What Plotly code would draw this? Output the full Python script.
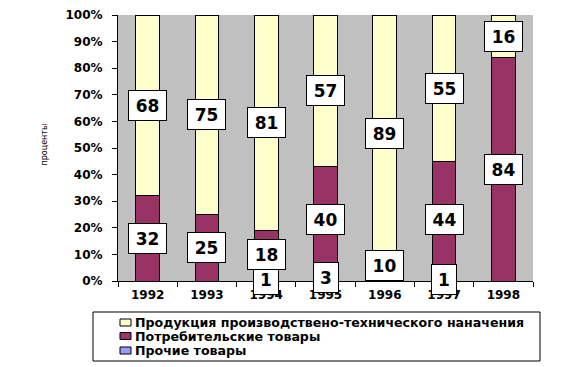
import plotly.graph_objects as go

years = ["1992", "1993", "1994", "1995", "1996", "1997", "1998"]
producer = [68, 75, 81, 57, 89, 55, 16]
consumer = [32, 25, 18, 40, 10, 44, 84]
other = [0, 0, 1, 3, 1, 1, 0]
other_labels = ["", "", "1", "3", "", "1", ""]

name_prod = "Продукция производствено-технического наначения"
name_cons = "Потребительские товары"
name_other = "Прочие товары"
y_title = "проценты"
y_ticks = [0, 10, 20, 30, 40, 50, 60, 70, 80, 90, 100]

COL_PROD, COL_CONS, COL_OTHER = "#FFFFCC", "#993366", "#9999FF"
FONT = "DejaVu Sans"
W, H = 583, 367
L, R, T, B = 118, 50, 15, 86
pw, ph = W - L - R, H - T - B

def px_x(x):
    return (x - L) / pw

def px_y(y):
    return (H - B - y) / ph

fig = go.Figure()
line = dict(color="black", width=1)
fig.add_trace(go.Bar(x=years, y=other, name=name_other,
                     marker=dict(color=COL_OTHER, line=line)))
fig.add_trace(go.Bar(x=years, y=consumer, name=name_cons,
                     marker=dict(color=COL_CONS, line=line)))
fig.add_trace(go.Bar(x=years, y=producer, name=name_prod,
                     marker=dict(color=COL_PROD, line=line)))

annotations = []
def add_label(idx, center, text):
    if not text:
        return
    n = len(text)
    annotations.append(dict(
        x=idx, y=center, xref="x", yref="y", text=text,
        showarrow=False,
        font=dict(family=FONT, size=17, color="black", weight="bold"),
        bgcolor="white", bordercolor="black", borderwidth=1,
        borderpad=5, width=13 * n + 1, height=19,
        xanchor="center", yanchor="middle"))

for i in range(len(years)):
    o, c, p = other[i], consumer[i], producer[i]
    add_label(i, o / 2, other_labels[i])
    if c > 0:
        add_label(i, o + c / 2, str(c))
    if p > 0:
        add_label(i, o + c + p / 2, str(p))

annotations.append(dict(
    x=px_x(37), y=px_y(145), xref="paper", yref="paper", text=y_title,
    textangle=-90, showarrow=False,
    font=dict(family=FONT, size=8, color="black")))

# manual legend (compact rows as in the reference)
shapes = [dict(type="rect", xref="paper", yref="paper",
               x0=px_x(93), x1=px_x(540), y0=px_y(361), y1=px_y(312),
               line=dict(color="black", width=1), fillcolor="rgba(0,0,0,0)")]
legend_items = [(name_prod, COL_PROD), (name_cons, COL_CONS), (name_other, COL_OTHER)]
row_y = [322.5, 336, 350.5]
for (nm, col), ry in zip(legend_items, row_y):
    shapes.append(dict(type="rect", xref="paper", yref="paper",
                       x0=px_x(120), x1=px_x(131), y0=px_y(ry + 3.5), y1=px_y(ry - 3.5),
                       line=dict(color="black", width=1), fillcolor=col))
    annotations.append(dict(
        x=px_x(133), y=px_y(ry), xref="paper", yref="paper", text=nm,
        xanchor="left", yanchor="middle", showarrow=False,
        font=dict(family=FONT, size=12.6, color="black", weight="bold")))

fig.update_layout(
    width=W, height=H,
    margin=dict(l=L, r=R, t=T, b=B, pad=0, autoexpand=False),
    paper_bgcolor="white", plot_bgcolor="#C0C0C0",
    barmode="stack", bargap=0.6,
    font=dict(family=FONT, color="black"),
    annotations=annotations,
    showlegend=False,
    shapes=shapes,
)

fig.update_xaxes(
    type="category", categoryorder="array", categoryarray=years,
    range=[-0.5, len(years) - 0.5],
    showline=True, linecolor="black", linewidth=1,
    ticks="outside", tickson="boundaries", ticklen=5, tickcolor="black",
    showgrid=False, ticklabelstandoff=3,
    tickfont=dict(family=FONT, size=12, color="black", weight="bold"),
)
fig.update_yaxes(
    range=[0, 100], tickvals=y_ticks,
    ticktext=["%d%%" % v for v in y_ticks],
    showline=True, linecolor="black", linewidth=1,
    ticks="outside", ticklen=5, tickcolor="black", showgrid=False,
    ticklabelstandoff=7,
    tickfont=dict(family=FONT, size=12, color="black", weight="bold"),
    zeroline=False,
)

fig.write_html("out.html")
